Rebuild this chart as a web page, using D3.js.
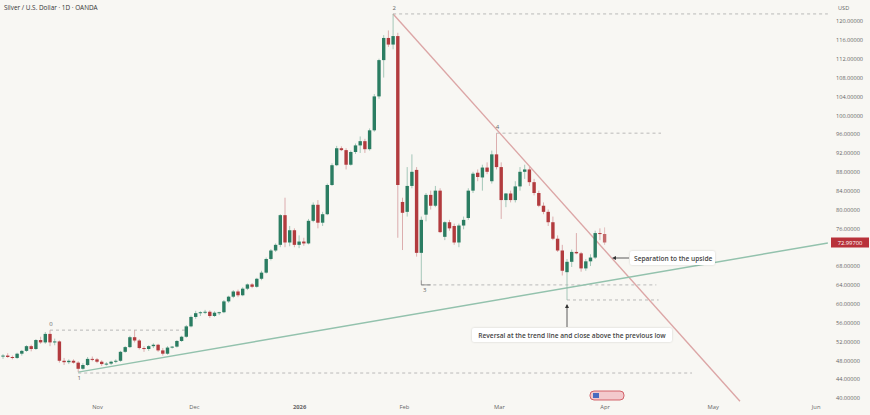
<!DOCTYPE html>
<html>
<head>
<meta charset="utf-8">
<script src="https://cdn.jsdelivr.net/npm/d3@7"></script>
<style>
  body { margin: 0; background: #f8f7f3; }
  svg { display: block; font-family: "Open Sans", "Noto Sans", sans-serif; }
</style>
</head>
<body>
<svg></svg>
<script>
const width = 870;
const height = 415;

// daily candles, [open, high, low, close], first bar early October
const candles = [
  [48.8,49.3,48.3,49.0],[49.0,49.5,48.5,48.7],[48.7,49.0,48.2,48.5],[48.5,49.6,48.3,49.4],
  [49.4,50.2,49.0,50.0],[50.0,51.2,49.8,51.0],[51.0,51.3,49.9,50.4],[50.4,52.5,50.2,52.3],
  [52.3,53.0,51.5,51.8],[51.8,54.0,51.5,53.6],[53.6,54.4,51.0,51.8],[51.8,52.6,51.2,52.0],
  [52.0,52.2,47.5,47.9],[47.9,48.5,47.0,47.6],[47.6,48.2,47.2,47.9],[47.9,48.2,47.3,47.5],
  [47.5,47.8,45.5,46.2],[46.2,47.4,46.0,47.0],[47.0,48.7,46.8,48.3],[48.3,48.8,47.8,48.2],
  [48.2,48.5,47.4,47.7],[47.7,48.0,46.8,47.2],[47.2,47.6,46.9,47.3],[47.3,47.9,47.0,47.7],
  [47.7,48.2,47.4,47.9],[47.9,50.0,47.7,49.8],[49.8,51.0,49.6,50.8],[50.8,53.2,50.6,52.9],
  [52.9,54.4,51.8,52.2],[52.2,52.5,50.3,50.6],[50.6,51.0,49.8,50.4],[50.4,51.2,50.0,51.0],
  [51.0,51.6,50.6,51.3],[51.3,51.5,49.8,50.1],[50.1,50.6,49.0,49.4],[49.4,51.0,49.2,50.7],
  [50.7,51.0,50.5,50.9],[50.9,52.3,50.7,52.1],[52.1,53.2,51.9,53.0],[53.0,55.5,52.8,55.2],
  [55.2,57.5,55.0,57.2],[57.2,58.5,56.8,58.0],[58.0,58.4,57.4,58.2],[58.2,58.7,57.8,58.3],
  [58.3,58.6,57.0,57.4],[57.4,58.4,57.2,58.1],[58.1,58.3,57.6,58.2],[58.2,60.8,58.0,60.5],
  [60.5,61.7,60.2,61.5],[61.5,62.9,61.2,62.6],[62.6,63.0,61.4,61.8],[61.8,63.5,61.6,63.2],
  [63.2,64.3,62.9,64.1],[64.1,64.4,63.3,63.6],[63.6,65.5,63.4,65.3],[65.3,67.0,65.0,66.6],
  [66.6,69.8,66.4,69.5],[69.5,71.6,69.2,71.3],[71.3,72.8,71.0,72.5],[72.5,79.0,72.0,78.8],
  [78.8,82.5,72.0,73.0],[73.0,76.5,72.2,75.6],[75.6,76.0,72.0,72.5],[72.5,74.5,71.8,73.2],
  [73.2,74.0,72.3,72.8],[72.8,78.0,72.6,77.6],[77.6,81.5,77.3,81.0],[81.0,82.0,76.0,77.2],
  [77.2,79.5,76.5,79.0],[79.0,85.5,78.8,85.2],[85.2,89.8,85.0,89.4],[89.4,93.5,89.2,93.0],
  [93.0,93.4,92.4,92.6],[92.6,93.0,88.5,89.5],[89.5,92.5,89.3,92.2],[92.2,94.0,91.8,93.6],
  [93.6,95.5,92.0,94.5],[94.5,95.0,92.0,92.8],[92.8,97.2,92.5,96.8],[96.8,104.5,96.5,104.0],
  [104.0,112.0,103.5,111.7],[111.7,117.0,108.0,116.4],[116.4,118.0,114.5,115.0],[115.0,121.5,114.0,116.8],
  [116.8,117.5,74.0,85.2],[81.6,82.5,71.4,79.3],[79.5,89.0,78.5,85.0],[85.0,91.7,84.5,88.0],
  [88.4,89.0,70.0,70.8],[70.8,78.5,65.0,77.8],[78.9,83.5,77.5,83.1],[83.1,84.0,80.0,80.8],
  [80.8,85.0,80.5,84.0],[84.0,84.5,75.0,75.2],[74.2,77.5,73.5,77.3],[77.3,77.8,75.5,76.0],
  [76.5,77.0,72.5,73.0],[73.0,77.0,72.0,76.6],[76.6,78.5,75.8,77.8],[78.2,84.5,77.8,84.0],
  [84.0,88.0,83.5,87.6],[87.8,88.5,86.0,86.9],[86.8,89.5,84.0,88.9],[88.9,90.0,87.5,88.0],
  [86.0,92.5,85.5,91.7],[91.7,96.2,88.5,89.0],[89.0,90.0,78.0,82.0],[82.0,83.5,80.5,83.4],
  [83.4,84.0,81.5,82.0],[82.0,86.0,81.5,84.9],[84.9,89.0,84.0,88.0],[88.0,89.5,86.5,88.5],
  [88.5,89.0,85.0,85.8],[85.8,86.5,83.0,83.5],[83.5,84.0,80.5,80.8],[80.8,81.5,79.0,79.5],
  [79.5,80.0,76.5,77.3],[77.3,78.5,73.5,73.8],[73.8,74.5,71.0,71.3],[71.3,72.5,66.0,67.0],
  [66.7,69.5,60.8,68.9],[68.9,71.5,67.8,71.0],[71.0,75.0,70.5,70.7],[70.7,71.0,66.8,67.5],
  [67.5,69.5,67.0,69.0],[69.0,70.5,68.0,69.8],[69.8,75.5,69.5,75.0],[75.0,76.0,73.5,74.8],
  [74.8,76.2,72.5,73.0]
];
const lastPrice = 72.997;

// month ticks by bar index
const monthLabels = ['Nov', 'Dec', '2026', 'Feb', 'Mar', 'Apr', 'May', 'Jun'];
const monthIndex = [20, 40.6, 63, 85.3, 105.5, 128, 151, 172.9];

// 72 is hidden behind the last-price tag
const priceTicks = d3.range(40, 121, 4).filter(v => v !== 72);

// drawings: [index, price]
const resistance = [[83, 121.5], [156.8, 39.3]];
const support = [[16, 45.5], [175.5, 72.9]];
const levels = [
  { from: 10, to: 38.7, price: 54.4 },
  { from: 16, to: 146.6, price: 45.3 },
  { from: 83, to: 175.5, price: 121.5 },
  { from: 105, to: 140, price: 96.2 },
  { from: 89, to: 139, price: 64.0 },
  { from: 120, to: 139.5, price: 60.8 }
];
const points = [
  { label: '0', i: 10, price: 54.4, dy: -4 },
  { label: '1', i: 16, price: 45.5, dy: 8 },
  { label: '2', i: 83, price: 121.5, dy: -4 },
  { label: '3', i: 89.5, price: 64.0, dy: 7 },
  { label: '4', i: 105, price: 96.2, dy: -4 }
];

const x = d3.scaleLinear().domain([0, 175]).range([3, 825.5]);
const y = d3.scaleLinear().domain([40, 120]).range([398, 21]);

const svg = d3.select('svg')
  .attr('width', width)
  .attr('height', height);

svg.append('rect')
  .attr('width', width)
  .attr('height', height)
  .attr('fill', '#f8f7f3');

const up = '#2b7d62';
const down = '#b23b3e';

// level lines
svg.append('g').selectAll('line')
  .data(levels)
  .join('line')
  .attr('x1', d => x(d.from))
  .attr('x2', d => x(d.to))
  .attr('y1', d => y(d.price))
  .attr('y2', d => y(d.price))
  .attr('stroke', '#a9a9a9')
  .attr('stroke-width', 0.8)
  .attr('stroke-dasharray', '3,3');

// vertical tick from point 3
svg.append('line')
  .attr('x1', x(89)).attr('x2', x(89))
  .attr('y1', y(65)).attr('y2', y(64))
  .attr('stroke', '#777').attr('stroke-width', 0.8);
svg.append('line')
  .attr('x1', x(89)).attr('x2', x(91))
  .attr('y1', y(64)).attr('y2', y(64))
  .attr('stroke', '#777').attr('stroke-width', 0.8);

const line = d3.line().x(d => x(d[0])).y(d => y(d[1]));

svg.append('path')
  .attr('d', line(resistance))
  .attr('fill', 'none')
  .attr('stroke', '#dca6a6')
  .attr('stroke-width', 1.4);

svg.append('path')
  .attr('d', line(support))
  .attr('fill', 'none')
  .attr('stroke', '#93c2ad')
  .attr('stroke-width', 1.4);

// candles
const barW = 3.4;
const bars = svg.append('g').selectAll('g')
  .data(candles)
  .join('g')
  .attr('opacity', (d, i) => i === candles.length - 1 ? 0.75 : 1);

bars.append('line')
  .attr('x1', (d, i) => x(i))
  .attr('x2', (d, i) => x(i))
  .attr('y1', d => y(d[1]))
  .attr('y2', d => y(d[2]))
  .attr('stroke', d => d[3] >= d[0] ? '#8fbba9' : '#d49a9c')
  .attr('stroke-width', 0.8);

bars.append('rect')
  .attr('x', (d, i) => x(i) - barW / 2)
  .attr('width', barW)
  .attr('y', d => y(Math.max(d[0], d[3])))
  .attr('height', d => Math.max(1, Math.abs(y(d[0]) - y(d[3]))))
  .attr('fill', d => d[3] >= d[0] ? up : down);

// point labels
svg.append('g').selectAll('text')
  .data(points)
  .join('text')
  .attr('x', d => x(d.i) + 1)
  .attr('y', d => y(d.price) + d.dy)
  .attr('font-size', 6)
  .attr('fill', '#666')
  .attr('text-anchor', 'middle')
  .text(d => d.label);

// annotations
const note1 = svg.append('g');
note1.append('line')
  .attr('x1', x(120)).attr('x2', x(120))
  .attr('y1', 327).attr('y2', y(60.8) + 5)
  .attr('stroke', '#333').attr('stroke-width', 0.8);
note1.append('path')
  .attr('d', `M${x(120) - 2},${y(60.8) + 8}L${x(120)},${y(60.8) + 4}L${x(120) + 2},${y(60.8) + 8}Z`)
  .attr('fill', '#333');
note1.append('rect')
  .attr('x', 472).attr('y', 328).attr('width', 200).attr('height', 14)
  .attr('fill', '#ffffff').attr('rx', 2)
  .style('filter', 'drop-shadow(0 0.5px 1px rgba(0,0,0,0.15))');
note1.append('text')
  .attr('x', 572).attr('y', 338)
  .attr('text-anchor', 'middle')
  .attr('font-size', 6.6)
  .attr('font-weight', 600)
  .attr('fill', '#444')
  .text('Reversal at the trend line and close above the previous low');

const note2 = svg.append('g');
note2.append('line')
  .attr('x1', 615).attr('x2', 629)
  .attr('y1', 258).attr('y2', 258)
  .attr('stroke', '#333').attr('stroke-width', 0.8);
note2.append('path')
  .attr('d', 'M612,258L616,256L616,260Z')
  .attr('fill', '#333');
note2.append('rect')
  .attr('x', 630).attr('y', 251).attr('width', 85).attr('height', 14)
  .attr('fill', '#ffffff').attr('rx', 2)
  .style('filter', 'drop-shadow(0 0.5px 1px rgba(0,0,0,0.15))');
note2.append('text')
  .attr('x', 634).attr('y', 261)
  .attr('font-size', 6.6)
  .attr('font-weight', 600)
  .attr('fill', '#444')
  .text('Separation to the upside');

// event marker near the time axis
svg.append('rect')
  .attr('x', 590).attr('y', 391).attr('width', 34).attr('height', 9)
  .attr('rx', 4)
  .attr('fill', '#f3c9cc')
  .attr('stroke', '#c9454d')
  .attr('stroke-width', 0.8);
svg.append('rect')
  .attr('x', 593).attr('y', 393).attr('width', 6).attr('height', 5)
  .attr('fill', '#4a6bbf');

// right price axis
const yAxis = svg.append('g')
  .attr('transform', 'translate(836,0)')
  .call(d3.axisRight(y).tickValues(priceTicks).tickSize(0).tickPadding(0)
    .tickFormat(d => d.toFixed(5)));
yAxis.select('.domain').remove();
yAxis.selectAll('text')
  .attr('font-size', 5.6)
  .attr('fill', '#666')
  .attr('font-family', '"Open Sans", sans-serif');

svg.append('text')
  .attr('x', 838).attr('y', 10)
  .attr('font-size', 5.6)
  .attr('fill', '#666')
  .text('USD');

// last price tag
svg.append('rect')
  .attr('x', 831).attr('y', y(lastPrice) - 5).attr('width', 38).attr('height', 10)
  .attr('fill', '#b8323a');
svg.append('text')
  .attr('x', 850).attr('y', y(lastPrice) + 2)
  .attr('text-anchor', 'middle')
  .attr('font-size', 5.8)
  .attr('fill', '#fff')
  .text(lastPrice.toFixed(5));

// bottom time axis
const xAxis = svg.append('g')
  .attr('transform', 'translate(0,403)')
  .call(d3.axisBottom(x).tickValues(monthIndex).tickSize(0).tickPadding(2)
    .tickFormat((d, i) => monthLabels[i]));
xAxis.select('.domain').remove();
xAxis.selectAll('text')
  .attr('font-size', 5.8)
  .attr('fill', '#666')
  .attr('font-weight', (d, i) => monthLabels[i] === '2026' ? 700 : 400)
  .attr('font-family', '"Open Sans", sans-serif');

// title
svg.append('text')
  .attr('x', 4).attr('y', 10)
  .attr('font-size', 6.4)
  .attr('fill', '#333')
  .text('Silver / U.S. Dollar · 1D · OANDA');
</script>
</body>
</html>
